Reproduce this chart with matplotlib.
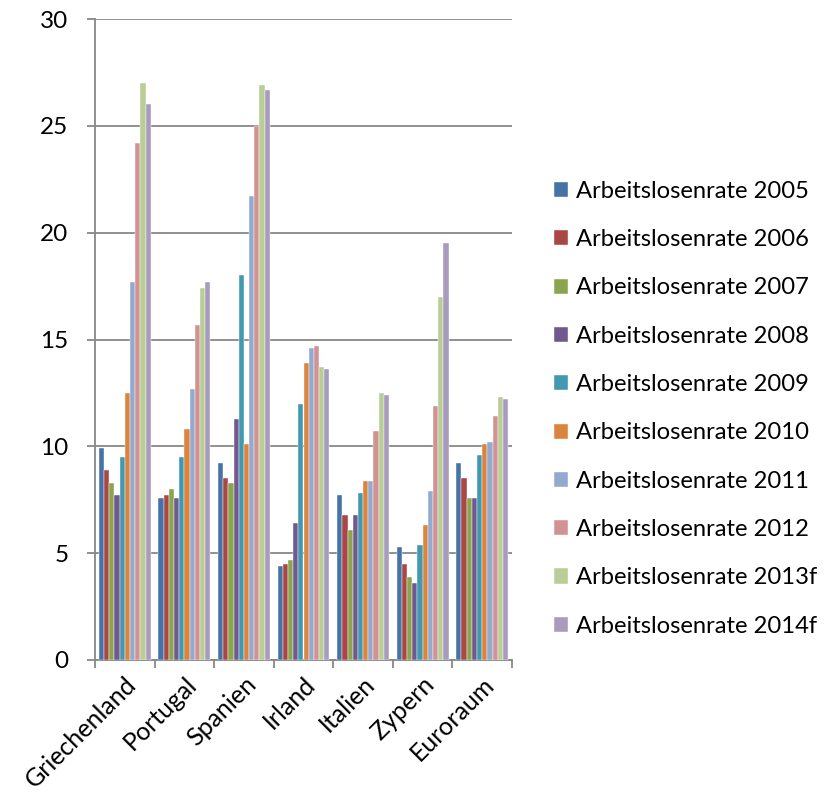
import matplotlib
matplotlib.use("Agg")
import matplotlib.pyplot as plt
import numpy as np

countries = ["Griechenland", "Portugal", "Spanien", "Irland", "Italien", "Zypern", "Euroraum"]
series_names = [
    "Arbeitslosenrate 2005", "Arbeitslosenrate 2006", "Arbeitslosenrate 2007",
    "Arbeitslosenrate 2008", "Arbeitslosenrate 2009", "Arbeitslosenrate 2010",
    "Arbeitslosenrate 2011", "Arbeitslosenrate 2012", "Arbeitslosenrate 2013f",
    "Arbeitslosenrate 2014f",
]
rate_2005 = [9.9, 7.6, 9.2, 4.4, 7.7, 5.3, 9.2]
rate_2006 = [8.9, 7.7, 8.5, 4.5, 6.8, 4.5, 8.5]
rate_2007 = [8.3, 8.0, 8.3, 4.7, 6.1, 3.9, 7.6]
rate_2008 = [7.7, 7.6, 11.3, 6.4, 6.8, 3.6, 7.6]
rate_2009 = [9.5, 9.5, 18.0, 12.0, 7.8, 5.4, 9.6]
rate_2010 = [12.5, 10.8, 10.1, 13.9, 8.4, 6.3, 10.1]
rate_2011 = [17.7, 12.7, 21.7, 14.6, 8.4, 7.9, 10.2]
rate_2012 = [24.2, 15.7, 25.0, 14.7, 10.7, 11.9, 11.4]
rate_2013f = [27.0, 17.4, 26.9, 13.7, 12.5, 17.0, 12.3]
rate_2014f = [26.0, 17.7, 26.7, 13.6, 12.4, 19.5, 12.2]
y_ticks = [0, 5, 10, 15, 20, 25, 30]

series = [rate_2005, rate_2006, rate_2007, rate_2008, rate_2009,
          rate_2010, rate_2011, rate_2012, rate_2013f, rate_2014f]
colors = ["#4572A7", "#AA4643", "#89A54E", "#71588F", "#4198AF",
          "#DB843D", "#93A9CF", "#D19392", "#B9CD96", "#A99BBD"]

plt.rcParams["font.family"] = ["Lato", "DejaVu Sans"]
grid_col = "#878787"

fig = plt.figure(figsize=(8.36, 7.95), dpi=100)
ax = fig.add_axes([95 / 836, 135 / 795, 417 / 836, 641 / 795])

n = len(series)
bw = 1.0 / (n + 1.5)
x = np.arange(len(countries))
handles = []
for i, (vals, col, name) in enumerate(zip(series, colors, series_names)):
    offs = (i - (n - 1) / 2) * bw
    b = ax.bar(x + offs, vals, width=bw, color=col, edgecolor="white",
               linewidth=0.3, label=name, zorder=3)
    handles.append(b)

ax.set_xlim(-0.5, len(countries) - 0.5)
ax.set_ylim(0, 30)
ax.set_yticks(y_ticks)
ax.set_yticklabels([str(v) for v in y_ticks], fontsize=17.5)
ax.yaxis.grid(True, color=grid_col, linewidth=1.3, zorder=0)
ax.set_axisbelow(True)

# group boundaries as major ticks, names at group centres as minor ticks
ax.set_xticks(np.arange(len(countries) + 1) - 0.5)
ax.set_xticklabels([])
ax.set_xticks(x, minor=True)
ax.set_xticklabels(countries, minor=True, rotation=45, ha="right",
                   rotation_mode="anchor", fontsize=18)
ax.tick_params(axis="x", which="minor", length=0, pad=9)
ax.tick_params(axis="x", which="major", length=6, width=1.3, color=grid_col)
ax.tick_params(axis="y", length=6, width=1.3, color=grid_col, pad=13)

for s in ["top", "right"]:
    ax.spines[s].set_visible(False)
for s in ["left", "bottom"]:
    ax.spines[s].set_color(grid_col)
    ax.spines[s].set_linewidth(1.3)

leg = fig.legend(handles=handles, labels=series_names, loc="upper left",
                 bbox_to_anchor=(542 / 836, 1 - 169 / 795), frameon=False,
                 fontsize=17.1, handlelength=0.6, handleheight=0.6,
                 handletextpad=0.35, labelspacing=1.15, borderpad=0)

fig.savefig("out.png", dpi=100)
